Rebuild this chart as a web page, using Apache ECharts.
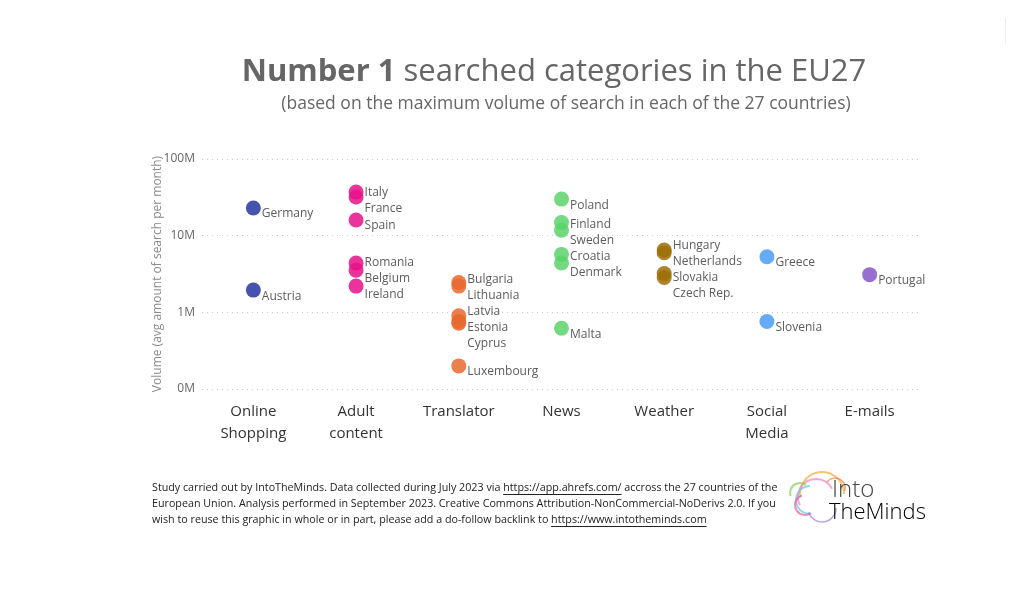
<!DOCTYPE html>
<html><head><meta charset="utf-8">
<script src="https://cdn.jsdelivr.net/npm/echarts@6/dist/echarts.min.js"></script>
<style>html,body{margin:0;padding:0;background:#fff}#c{width:1024px;height:592px}</style>
</head><body><div id="c"></div><script>
// ---- data ----
const categories = ['Online\nShopping', 'Adult\ncontent', 'Translator', 'News', 'Weather', 'Social\nMedia', 'E-mails'];
const yTickValues = [100000, 1000000, 10000000, 100000000];

const onlineShoppingCountries = ['Germany', 'Austria'];
const onlineShoppingValues = [23000000, 1950000];

const adultCountries = ['Italy', 'France', 'Spain', 'Romania', 'Belgium', 'Ireland'];
const adultValues = [37000000, 32000000, 16000000, 4400000, 3550000, 2200000];

const translatorCountries = ['Bulgaria', 'Lithuania', 'Latvia', 'Estonia', 'Cyprus', 'Luxembourg'];
const translatorValues = [2450000, 2200000, 900000, 760000, 720000, 200000];

const newsCountries = ['Poland', 'Finland', 'Sweden', 'Croatia', 'Denmark', 'Malta'];
const newsValues = [30000000, 14800000, 11800000, 5700000, 4400000, 620000];

const weatherCountries = ['Hungary', 'Netherlands', 'Slovakia', 'Czech Rep.'];
const weatherValues = [6500000, 6000000, 3200000, 2850000];

const socialCountries = ['Greece', 'Slovenia'];
const socialValues = [5300000, 760000];

const emailCountries = ['Portugal'];
const emailValues = [3100000];

const groups = [
  [onlineShoppingCountries, onlineShoppingValues],
  [adultCountries, adultValues],
  [translatorCountries, translatorValues],
  [newsCountries, newsValues],
  [weatherCountries, weatherValues],
  [socialCountries, socialValues],
  [emailCountries, emailValues]
];
const colors = ['#27369f', '#e8108a', '#e8682e', '#5ad468', '#9c6e08', '#4a9cf5', '#8656c9'];

// ---- helpers ----
const FONT = "'Segoe UI','Open Sans','Noto Sans',sans-serif";
const cv = document.createElement('canvas').getContext('2d');
function textW(t, size, weight) { cv.font = (weight || 'normal') + ' ' + size + 'px ' + FONT; return cv.measureText(t).width; }

const chart = echarts.init(document.getElementById('c'), null, { renderer: 'canvas' });

function makeSeries(offsets) {
  return groups.map((g, i) => ({
    type: 'scatter',
    symbolSize: 15,
    itemStyle: { color: colors[i], opacity: 0.85 },
    data: g[1].map((v, j) => ({
      value: [i, v], name: g[0][j],
      label: { offset: [0, offsets ? offsets[i][j] : 6] }
    })),
    label: {
      show: true, position: 'right', distance: 1,
      formatter: '{b}', color: '#404040', fontSize: 12, fontFamily: FONT, lineHeight: 16
    },
    emphasis: { disabled: true }
  }));
}

// footer
const footSize = 11;
const L1a = 'Study carried out by IntoTheMinds. Data collected during July 2023 via ';
const L1link = 'https://app.ahrefs.com/';
const L1b = ' accross the 27 countries of the';
const L2 = 'European Union. Analysis performed in September 2023. Creative Commons Attribution-NonCommercial-NoDerivs 2.0. If you';
const L3a = 'wish to reuse this graphic in whole or in part, please add a do-follow backlink to ';
const L3link = 'https://www.intotheminds.com';
const full1 = L1a + L1link + L1b;
const fs = footSize * 626 / textW(full1, footSize);
const fx = 152;
const footStyle = { fontSize: fs, fontFamily: FONT, fill: '#222', textVerticalAlign: 'middle' };
const u1x = fx + textW(L1a, fs), u1w = textW(L1link, fs);
const u3x = fx + textW(L3a, fs), u3w = textW(L3link, fs);

const LOGOF = "'Open Sans',sans-serif";
const graphics = [
  { type: 'text', left: fx, top: 482, style: Object.assign({ text: full1 }, footStyle) },
  { type: 'text', left: fx, top: 498, style: Object.assign({ text: L2 }, footStyle) },
  { type: 'text', left: fx, top: 514, style: Object.assign({ text: L3a + L3link }, footStyle) },
  { type: 'line', shape: { x1: u1x, y1: 494.5, x2: u1x + u1w, y2: 494.5 }, style: { stroke: '#222', lineWidth: 1 } },
  { type: 'line', shape: { x1: u3x, y1: 526.5, x2: u3x + u3w, y2: 526.5 }, style: { stroke: '#222', lineWidth: 1 } },
  // top-right faint mark
  { type: 'line', shape: { x1: 1005.5, y1: 18, x2: 1005.5, y2: 44 }, style: { stroke: '#eeeeee', lineWidth: 1 } },
  // logo brain (approximation)
  { type: 'arc', shape: { cx: 822, cy: 494, r: 22, startAngle: Math.PI * 0.95, endAngle: Math.PI * 2.0 }, style: { stroke: '#f3b340', lineWidth: 2, fill: null, opacity: 0.75 } },
  { type: 'arc', shape: { cx: 816, cy: 497, r: 18, startAngle: Math.PI * 0.85, endAngle: Math.PI * 1.85 }, style: { stroke: '#f08ac0', lineWidth: 2, fill: null, opacity: 0.75 } },
  { type: 'arc', shape: { cx: 810, cy: 500, r: 14, startAngle: Math.PI * 0.5, endAngle: Math.PI * 1.5 }, style: { stroke: '#6fc8e8', lineWidth: 2, fill: null, opacity: 0.75 } },
  { type: 'arc', shape: { cx: 805, cy: 505, r: 10, startAngle: Math.PI * 0.3, endAngle: Math.PI * 1.4 }, style: { stroke: '#e060a0', lineWidth: 2, fill: null, opacity: 0.7 } },
  { type: 'arc', shape: { cx: 822, cy: 508, r: 14, startAngle: 0, endAngle: Math.PI * 0.9 }, style: { stroke: '#9b7fd8', lineWidth: 1.5, fill: null, opacity: 0.7 } },
  { type: 'arc', shape: { cx: 800, cy: 493, r: 10, startAngle: Math.PI * 0.9, endAngle: Math.PI * 1.7 }, style: { stroke: '#8fd060', lineWidth: 2, fill: null, opacity: 0.75 } },
  { type: 'arc', shape: { cx: 835, cy: 488, r: 10, startAngle: Math.PI * 1.2, endAngle: Math.PI * 2.1 }, style: { stroke: '#f07850', lineWidth: 1.5, fill: null, opacity: 0.7 } },
  { type: 'text', left: 832, top: 478, style: { text: 'Into', fontSize: 24, fontFamily: LOGOF, fontWeight: 300, fill: '#444' } },
  { type: 'text', left: 829, top: 502, style: {
      text: '{a|The}{m|M}{i|i}{n|n}{d|d}{s|s}',
      rich: {
        a: { fontSize: 22, fontFamily: LOGOF, fontWeight: 300, color: '#444' },
        m: { fontSize: 22, fontFamily: LOGOF, fontWeight: 300, color: '#55b8e8' },
        i: { fontSize: 22, fontFamily: LOGOF, fontWeight: 300, color: '#8dc63f' },
        n: { fontSize: 22, fontFamily: LOGOF, fontWeight: 300, color: '#9a4fb0' },
        d: { fontSize: 22, fontFamily: LOGOF, fontWeight: 300, color: '#e9b530' },
        s: { fontSize: 22, fontFamily: LOGOF, fontWeight: 300, color: '#ef7a3a' }
      } } }
];

const baseOption = {
  animation: false,
  backgroundColor: '#fff',
  title: [
    {
      text: '{b|Number 1} searched categories in the EU27',
      left: 549, top: 52, textAlign: 'center',
      textStyle: {
        fontSize: 31, fontFamily: FONT, color: '#666', fontWeight: 'normal',
        rich: { b: { fontSize: 31, fontFamily: FONT, color: '#666', fontWeight: 'bold' } }
      }
    },
    {
      text: '(based on the maximum volume of search in each of the 27 countries)',
      left: 561, top: 90, textAlign: 'center',
      textStyle: { fontSize: 17.5, fontFamily: FONT, color: '#666', fontWeight: 'normal' }
    }
  ],
  grid: { left: 202, right: 103, top: 159, bottom: 203, containLabel: false },
  xAxis: {
    type: 'category', data: categories, boundaryGap: true,
    axisLine: { show: false }, axisTick: { show: false }, splitLine: { show: false },
    axisLabel: { fontSize: 15, fontFamily: FONT, color: '#333', lineHeight: 22, margin: 12, interval: 0 }
  },
  yAxis: {
    type: 'log', logBase: 10, min: yTickValues[0], max: yTickValues[yTickValues.length - 1],
    name: 'Volume (avg amount of search per month)', nameLocation: 'middle', nameGap: 38,
    nameMoveOverlap: false,
    nameTextStyle: { fontSize: 12, fontFamily: FONT, color: '#8a8a8a' },
    axisLine: { show: false }, axisTick: { show: false },
    axisLabel: { fontSize: 12, fontFamily: FONT, color: '#666', margin: 7,
      formatter: v => Math.round(v / 1e6) + 'M' },
    splitLine: { show: true, lineStyle: { color: '#cccccc', type: [1, 4], width: 1 } }
  },
  series: makeSeries(null),
  graphic: graphics
};
chart.setOption(baseOption);

// ---- spread labels vertically to avoid overlap (computed from pixel positions) ----
const LH = 16, BASE_DY = 6;
const offsets = groups.map((g, i) => {
  const pts = g[1].map((v, j) => ({ j, y: chart.convertToPixel({ gridIndex: 0 }, [i, v])[1] + BASE_DY }));
  pts.sort((a, b) => a.y - b.y);
  let clusters = pts.map(p => ({ items: [p], sum: p.y, start: p.y }));
  let changed = true;
  while (changed) {
    changed = false;
    for (let k = 0; k < clusters.length - 1; k++) {
      const a = clusters[k], b = clusters[k + 1];
      if (a.start + a.items.length * LH > b.start + 0.01) {
        const items = a.items.concat(b.items), sum = a.sum + b.sum;
        clusters.splice(k, 2, { items, sum, start: sum / items.length - (items.length - 1) * LH / 2 });
        changed = true; break;
      }
    }
  }
  const res = [];
  clusters.forEach(c => c.items.forEach((p, k) => {
    const dotY = p.y - BASE_DY;
    res[p.j] = c.start + k * LH - dotY;
  }));
  return res;
});
chart.setOption({ series: makeSeries(offsets) });
</script></body></html>
